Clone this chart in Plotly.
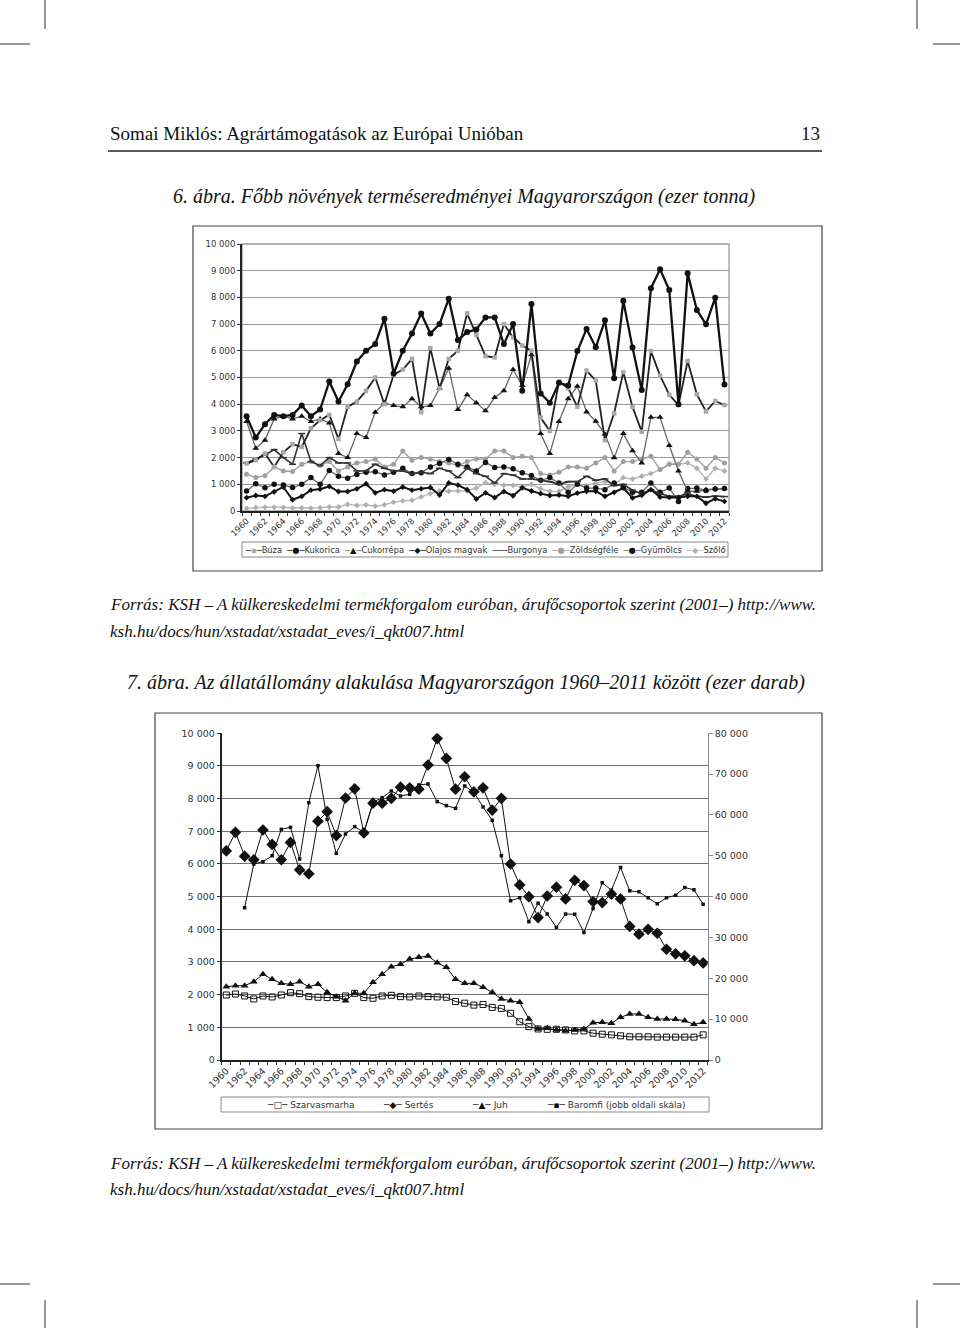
import plotly.graph_objects as go

# ---------------- DATA ----------------
years = list(range(1960, 2013))

# 6. ábra – Főbb növények terméseredményei (ezer tonna)
buza = [1780, 1900, 2150, 1650, 2200, 2500, 2400, 3100, 3400, 3600,
        2700, 3900, 4100, 4500, 5000, 4000, 5100, 5300, 5700, 3700,
        6100, 4600, 5700, 6000, 7400, 6600, 5800, 5750, 7000, 6500,
        6200, 6000, 3500, 3000, 4850, 4600, 3900, 5260, 4880, 2650,
        3660, 5200, 3900, 2970, 5990, 5070, 4350, 3970, 5620, 4370,
        3730, 4120, 3970]
kukorica = [3550, 2750, 3250, 3600, 3550, 3600, 3950, 3550, 3800, 4850,
            4100, 4750, 5600, 6000, 6250, 7200, 5150, 6000, 6650, 7400,
            6650, 7000, 7950, 6400, 6700, 6800, 7250, 7250, 6250, 7000,
            4500, 7750, 4400, 4050, 4800, 4700, 5990, 6820, 6130, 7140,
            4970, 7870, 6120, 4530, 8340, 9050, 8280, 4000, 8900, 7530,
            6990, 7990, 4740]
cukorrepa = [3350, 2350, 2650, 3450, 3550, 3450, 3550, 3350, 3450, 3300,
             2150, 2000, 2900, 2750, 3700, 4050, 3950, 3900, 4200, 3900,
             3950, 4600, 5350, 3800, 4350, 4050, 3750, 4250, 4500, 5300,
             4700, 5850, 2900, 2150, 3350, 4200, 4670, 3710, 3360, 2880,
             1990, 2900, 2260, 1800, 3510, 3510, 2450, 1500, 740, 740,
             800, 840, 840]
olajos = [500, 580, 550, 720, 900, 420, 550, 780, 820, 920,
          730, 730, 830, 1020, 680, 800, 740, 900, 780, 830,
          880, 600, 1050, 970, 800, 450, 680, 500, 730, 570,
          870, 750, 650, 580, 600, 550, 670, 740, 740, 550,
          700, 860, 490, 590, 800, 520, 510, 510, 550, 550,
          290, 460, 360]
burgonya = [1800, 1950, 2100, 2300, 2000, 1750, 2900, 1850, 1700, 2000,
            1800, 1800, 1500, 1500, 1750, 1600, 1500, 1500, 1400, 1450,
            1400, 1600, 1500, 1250, 1600, 1400, 1300, 1050, 1400, 1350,
            1200, 1200, 1150, 1100, 1000, 1100, 1100, 1300, 1150, 1200,
            950, 1000, 780, 650, 800, 650, 550, 550, 640, 550,
            520, 560, 540]
zoldseg = [1380, 1250, 1320, 1650, 1500, 1480, 1750, 1850, 1700, 1850,
           1500, 1650, 1800, 1850, 1950, 1650, 1750, 2250, 1900, 2000,
           1950, 1850, 1800, 1700, 1850, 1950, 1950, 2250, 2250, 2000,
           2050, 2000, 1400, 1350, 1450, 1650, 1650, 1600, 1800, 2000,
           1500, 1850, 1850, 1950, 2050, 1550, 1750, 1750, 2200, 1950,
           1600, 2000, 1800]
gyumolcs = [750, 1020, 870, 1000, 970, 880, 1000, 1250, 1000, 1520,
            1300, 1230, 1370, 1450, 1470, 1350, 1450, 1600, 1400, 1430,
            1650, 1780, 1930, 1750, 1650, 1500, 1820, 1630, 1650, 1580,
            1430, 1330, 1150, 1250, 1050, 700, 1000, 860, 860, 800,
            1050, 900, 700, 700, 1050, 700, 860, 360, 840, 860,
            770, 820, 840]
szolo = [100, 130, 140, 140, 130, 110, 120, 110, 120, 150,
         150, 250, 210, 230, 180, 230, 330, 380, 400, 530,
         650, 750, 740, 750, 760, 860, 1060, 1000, 960, 960,
         900, 1000, 830, 730, 740, 900, 1000, 950, 1050, 1100,
         1000, 1250, 1200, 1300, 1400, 1550, 1750, 1750, 1800, 1600,
         1200, 1600, 1500]

# 7. ábra – Állatállomány (ezer darab)
szarvasmarha = [1990, 2020, 1960, 1870, 1960, 1930, 1990, 2060, 2030, 1940,
                1920, 1910, 1910, 1960, 2040, 1910, 1890, 1960, 1980, 1940,
                1930, 1960, 1940, 1930, 1920, 1790, 1740, 1680, 1700, 1610,
                1580, 1430, 1170, 1020, 950, 940, 940, 920, 890, 890,
                820, 790, 770, 740, 710, 710, 710, 700, 700, 700,
                700, 700, 770]
sertes = [6400, 6970, 6240, 6130, 7040, 6600, 6130, 6660, 5820, 5700,
          7310, 7600, 6870, 8020, 8300, 6950, 7860, 7860, 8010, 8350,
          8330, 8290, 9030, 9840, 9230, 8290, 8670, 8210, 8330, 7650,
          8010, 6000, 5360, 5000, 4360, 5020, 5290, 4930, 5500, 5340,
          4850, 4820, 5080, 4930, 4090, 3850, 4000, 3880, 3390, 3250,
          3190, 3040, 2970]
juh = [2245, 2275, 2275, 2397, 2622, 2469, 2347, 2316, 2397, 2245,
       2316, 2071, 1939, 1816, 2041, 2041, 2377, 2622, 2857, 2928,
       3091, 3142, 3183, 2979, 2836, 2469, 2347, 2347, 2224, 2071,
       1867, 1816, 1765, 1255, 949, 969, 918, 898, 918, 949,
       1143, 1153, 1122, 1306, 1408, 1408, 1306, 1255, 1255, 1245,
       1204, 1092, 1153]
baromfi = [None, None, 37300, 48000, 48560, 50030, 56480, 56970, 49210, 63010,
           72080, 58930, 50600, 55340, 57140, 55750, 63100, 64240, 65870, 64650,
           65060, 67340, 67590, 63260, 62290, 61630, 67100, 65550, 61960, 58690,
           50030, 39010, 39740, 33870, 38360, 35750, 32490, 35750, 35710, 31230,
           37100, 43380, 41590, 47130, 41420, 41180, 39710, 38240, 39710, 40370,
           42240, 41670, 38160]

left_ticks = list(range(0, 10001, 1000))
right_ticks = list(range(0, 80001, 10000))
year_labels = years[::2]

# ---------------- HELPERS ----------------
W, H = 960, 1328
def fx(x):
    return x / W
def fy(y):
    return 1 - y / H
def sep(v):
    return f"{v:,}".replace(",", " ")

CH = "DejaVu Sans"
SERIF = "Liberation Serif"

fig = go.Figure()

# ---------------- CHART 1 ----------------
series1 = [
    ("Szőlő", szolo, dict(color="#b8b8b8", width=1.4), dict(symbol="diamond", size=4.5, color="#b0b0b0")),
    ("Zöldségféle", zoldseg, dict(color="#a0a0a0", width=1.4), dict(symbol="circle", size=5, color="#a0a0a0")),
    ("Gyümölcs", gyumolcs, dict(color="#6a6a6a", width=1.3), dict(symbol="circle", size=5.5, color="#111")),
    ("Burgonya", burgonya, dict(color="#333", width=1.6), dict(symbol="line-ew", size=5, color="#333", line=dict(width=1.5, color="#333"))),
    ("Olajos magvak", olajos, dict(color="#111", width=2), dict(symbol="diamond", size=4.5, color="#111")),
    ("Cukorrépa", cukorrepa, dict(color="#666", width=1.3), dict(symbol="triangle-up", size=6, color="#111")),
    ("Búza", buza, dict(color="#222", width=1.8), dict(symbol="square", size=4.5, color="#a8a8a8")),
    ("Kukorica", kukorica, dict(color="#111", width=2.3), dict(symbol="circle", size=6, color="#111")),
]
for name, vals, ln, mk in series1:
    fig.add_trace(go.Scatter(x=years, y=vals, name=name, mode="lines+markers",
                             line=ln, marker=mk, xaxis="x", yaxis="y",
                             showlegend=False, hoverinfo="skip"))

# ---------------- CHART 2 ----------------
series2 = [
    ("Szarvasmarha", szarvasmarha, "y2", dict(symbol="square-open", size=6, color="#111", line=dict(width=1))),
    ("Juh", juh, "y2", dict(symbol="triangle-up", size=7, color="#111")),
    ("Sertés", sertes, "y2", dict(symbol="diamond", size=9, color="#111")),
    ("Baromfi (jobb oldali skála)", baromfi, "y3", dict(symbol="square", size=3.5, color="#111")),
]
for name, vals, ya, mk in series2:
    fig.add_trace(go.Scatter(x=years, y=vals, name=name, mode="lines+markers",
                             line=dict(color="#111", width=1), marker=mk,
                             xaxis="x2", yaxis=ya, showlegend=False,
                             hoverinfo="skip", connectgaps=False))

tickfont1 = dict(family=CH, size=8.5, color="#333")
tickfont2 = dict(family=CH, size=9.5, color="#333")

fig.update_layout(
    width=W, height=H, margin=dict(l=0, r=0, t=0, b=0, pad=0, autoexpand=False),
    paper_bgcolor="white", plot_bgcolor="white", showlegend=False,
    xaxis=dict(domain=[fx(242), fx(729)], anchor="y", range=[1959.5, 2012.5], automargin=False,
               tickmode="array", tickvals=year_labels, ticktext=[str(y) for y in year_labels],
               tickangle=-45, tickfont=tickfont1, showline=True, linecolor="#222",
               linewidth=1.5, ticks="", showgrid=False, zeroline=False,
               minor=dict(tickmode="linear", tick0=1959.5, dtick=1, ticks="outside",
                          ticklen=3, tickcolor="#333", showgrid=False)),
    yaxis=dict(domain=[fy(511), fy(244)], anchor="x", range=[0, 10000], automargin=False,
               tickmode="array", tickvals=left_ticks, ticktext=[sep(v) for v in left_ticks],
               tickfont=tickfont1, showline=True, linecolor="#222", linewidth=2,
               ticks="outside", ticklen=3, tickcolor="#333",
               gridcolor="#9a9a9a", gridwidth=1.3, zeroline=False),
    xaxis2=dict(domain=[fx(221.7), fx(707.7)], anchor="y2", range=[1959.5, 2012.5], automargin=False,
                tickmode="array", tickvals=year_labels, ticktext=[str(y) for y in year_labels],
                tickangle=-45, tickfont=tickfont2, showline=True, linecolor="#222",
                linewidth=1.5, ticks="", showgrid=False, zeroline=False,
                minor=dict(tickmode="linear", tick0=1959.5, dtick=1, ticks="outside",
                           ticklen=3, tickcolor="#333", showgrid=False)),
    yaxis2=dict(domain=[fy(1060), fy(733.3)], anchor="x2", range=[0, 10000], automargin=False,
                tickmode="array", tickvals=left_ticks, ticktext=[sep(v) for v in left_ticks],
                tickfont=tickfont2, showline=True, linecolor="#222", linewidth=2,
                ticks="outside", ticklen=3, tickcolor="#333",
                gridcolor="#707070", gridwidth=1.3, zeroline=False),
    yaxis3=dict(domain=[fy(1060), fy(733.3)], anchor="x2", overlaying="y2", side="right",
                range=[0, 80000], tickmode="array", tickvals=right_ticks, automargin=False,
                ticktext=[sep(v) for v in right_ticks], tickfont=tickfont2,
                showline=True, linecolor="#888", linewidth=1.2, ticks="outside",
                ticklen=4, tickcolor="#888", showgrid=False, zeroline=False),
)

shapes = []
def line(x0, y0, x1, y1, color="#222", width=1):
    shapes.append(dict(type="line", xref="paper", yref="paper",
                       x0=fx(x0), y0=fy(y0), x1=fx(x1), y1=fy(y1),
                       line=dict(color=color, width=width)))
def rect(x0, y0, x1, y1, color="#555", width=1):
    shapes.append(dict(type="rect", xref="paper", yref="paper",
                       x0=fx(x0), y0=fy(y0), x1=fx(x1), y1=fy(y1),
                       line=dict(color=color, width=width), fillcolor="rgba(0,0,0,0)"))

# crop marks
for xx in (45, 917):
    line(xx, 0, xx, 29, "#333", 1)
    line(xx, 1300, xx, 1328, "#333", 1)
for yy in (44, 1284):
    line(0, yy, 30, yy, "#333", 1)
    line(933, yy, 960, yy, "#333", 1)
# header rule
line(108, 151, 822, 151, "#222", 1.5)
# chart boxes
rect(193, 226, 822, 571, "#444", 1.2)
rect(155, 713, 822, 1129, "#444", 1.2)
# chart 1 plot frame
shapes.append(dict(type="rect", xref="x domain", yref="y domain", x0=0, x1=1, y0=0, y1=1,
                   line=dict(color="#999", width=1.3), fillcolor="rgba(0,0,0,0)", layer="below"))
# legend boxes
rect(242, 542, 728, 557, "#888", 1)
rect(221, 1097, 709, 1112, "#888", 1)
fig.update_layout(shapes=shapes)

ann = []
def text(x, y, s, size, family=SERIF, anchor="left", italic=False, color="#111"):
    if italic:
        s = "<i>" + s + "</i>"
    ann.append(dict(x=fx(x), y=fy(y), xref="paper", yref="paper", text=s, showarrow=False,
                    xanchor=anchor, yanchor="middle", font=dict(family=family, size=size, color=color)))

text(108, 133, "Somai Miklós: Agrártámogatások az Európai Unióban", 19)
text(822, 133, "13", 19, anchor="right")
text(464, 196, "6. ábra. Főbb növények terméseredményei Magyarországon (ezer tonna)", 20, anchor="center", italic=True)
src1 = "Forrás: KSH – A külkereskedelmi termékforgalom euróban, árufőcsoportok szerint (2001–) http://www."
src2 = "ksh.hu/docs/hun/xstadat/xstadat_eves/i_qkt007.html"
text(108, 604, src1, 17, italic=True)
text(108, 632, src2, 17, italic=True)
text(466, 683, "7. ábra. Az állatállomány alakulása Magyarországon 1960–2011 között (ezer darab)", 20, anchor="center", italic=True)
text(108, 1163, src1, 17, italic=True)
text(108, 1189, src2, 17, italic=True)

# legend 1 (text based)
def sym(lc, mc, m):
    return f'<span style="color:{lc}">─</span><span style="color:{mc}">{m}</span><span style="color:{lc}">─</span>'
NB = "\u00a0"
leg1 = [
    (sym("#222", "#a8a8a8", "▪"), "Búza"),
    (sym("#111", "#111", "●"), "Kukorica"),
    (sym("#666", "#111", "▲"), "Cukorrépa"),
    (sym("#111", "#111", "◆"), "Olajos magvak"),
    (sym("#333", "#333", "─"), "Burgonya"),
    (sym("#a0a0a0", "#a0a0a0", "●"), "Zöldségféle"),
    (sym("#6a6a6a", "#111", "●"), "Gyümölcs"),
    (sym("#b8b8b8", "#b0b0b0", "◆"), "Szőlő"),
]
s1 = (NB * 2).join(f"{a}{b}" for a, b in leg1)
text(485, 549.5, s1, 8.3, family=CH, anchor="center", color="#333")

leg2 = [
    (265, sym("#111", "#111", "□"), "Szarvasmarha"),
    (381, sym("#111", "#111", "◆"), "Sertés"),
    (470, sym("#111", "#111", "▲"), "Juh"),
    (545, sym("#111", "#111", "▪"), "Baromfi (jobb oldali skála)"),
]
for x, a, b in leg2:
    text(x, 1104.5, f"{a}{NB}{b}", 9, family=CH, anchor="left", color="#333")

fig.update_layout(annotations=ann)
fig.write_html("out.html")
